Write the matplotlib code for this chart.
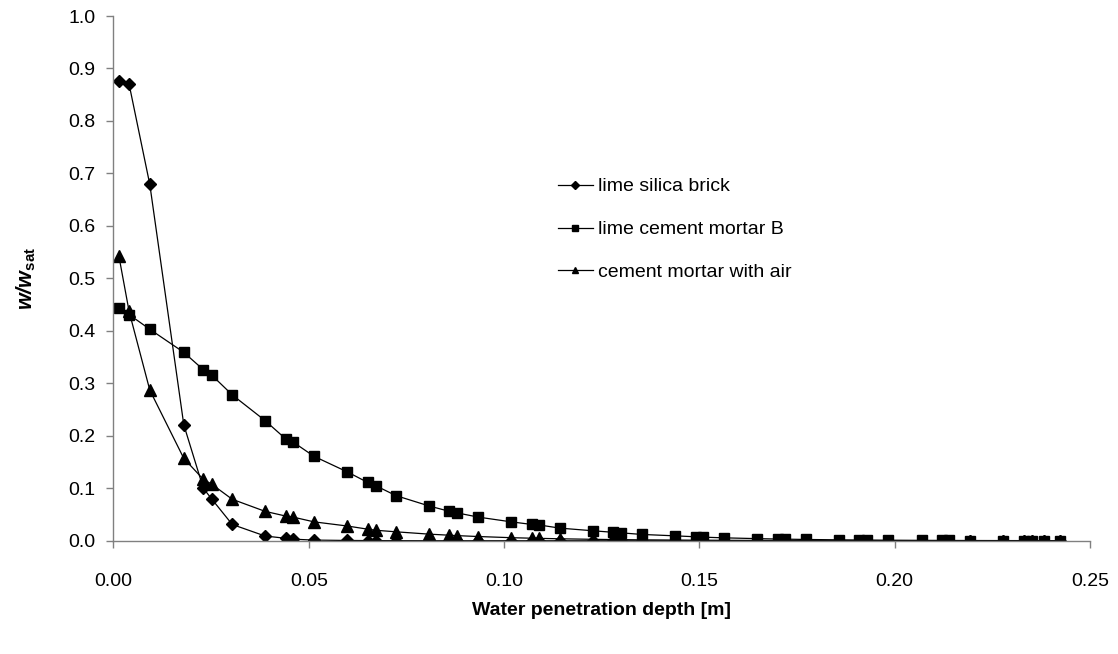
import matplotlib.pyplot as plt

plt.rcParams['font.family'] = ['Liberation Sans', 'DejaVu Sans']
plt.rcParams['mathtext.fontset'] = 'custom'
plt.rcParams['mathtext.rm'] = 'Liberation Sans'
plt.rcParams['mathtext.bf'] = 'Liberation Sans:bold'
plt.rcParams['mathtext.it'] = 'Liberation Sans:italic'
plt.rcParams['mathtext.bfit'] = 'Liberation Sans:italic:bold'

# depth grid [m]
depth = [0.0014, 0.0040, 0.0093,
         0.0180, 0.0230, 0.0251, 0.0304,
         0.0388, 0.0441, 0.0460, 0.0513,
         0.0599, 0.0651, 0.0671, 0.0723,
         0.0809, 0.0860, 0.0880, 0.0934,
         0.1018, 0.1071, 0.1090, 0.1143,
         0.1227, 0.1280, 0.1300, 0.1352,
         0.1438, 0.1491, 0.1510, 0.1563,
         0.1648, 0.1701, 0.1720, 0.1773,
         0.1858, 0.1909, 0.1930, 0.1982,
         0.2069, 0.2120, 0.2140, 0.2193,
         0.2278, 0.2331, 0.2351, 0.2383, 0.2423]

lime_silica = [0.877, 0.870, 0.679,
               0.221, 0.100, 0.080, 0.031,
               0.009, 0.0046, 0.0030, 0.0012,
               0.0005, 0.0003, 0.0002, 0.0001] + [0.0] * 33

lime_cement_b = [0.444, 0.431, 0.403,
                 0.359, 0.326, 0.316, 0.278,
                 0.229, 0.194, 0.188, 0.161,
                 0.131, 0.111, 0.105, 0.086,
                 0.066, 0.056, 0.053, 0.045,
                 0.036, 0.031, 0.030, 0.024,
                 0.019, 0.016, 0.015, 0.012,
                 0.0093, 0.0075, 0.0068, 0.0055,
                 0.0040, 0.0032, 0.0030, 0.0024,
                 0.0017, 0.0014, 0.0013, 0.0010,
                 0.0007, 0.0006, 0.0005, 0.0004,
                 0.0003, 0.0002, 0.0002, 0.0002, 0.0001]

cement_air = [0.542, 0.437, 0.287,
              0.157, 0.117, 0.108, 0.079,
              0.056, 0.047, 0.045, 0.036,
              0.028, 0.022, 0.020, 0.017,
              0.0125, 0.0105, 0.0097, 0.0080,
              0.0058, 0.0048, 0.0045, 0.0037,
              0.0027, 0.0022, 0.0021, 0.0017,
              0.0013, 0.0010, 0.0010, 0.0008,
              0.0006, 0.0005, 0.0005, 0.0004,
              0.0003, 0.0002, 0.0002, 0.0002,
              0.0001, 0.0001, 0.0001, 0.0001,
              0.0001, 0.0, 0.0, 0.0, 0.0]

names = ['lime silica brick', 'lime cement mortar B', 'cement mortar with air']

fig = plt.figure(figsize=(11.18, 6.54), dpi=100)
ax = fig.add_axes([0.1015, 0.1732, 0.8735, 0.8023])

ax.plot(depth, lime_silica, color='black', lw=0.9, marker='D', ms=6.4, label=names[0])
ax.plot(depth, lime_cement_b, color='black', lw=0.9, marker='s', ms=7.4, label=names[1])
ax.plot(depth, cement_air, color='black', lw=0.9, marker='^', ms=8.0, label=names[2])

ax.set_xlim(0, 0.25)
ax.set_ylim(0, 1.0)
ax.set_xticks([0, 0.05, 0.10, 0.15, 0.20, 0.25])
ax.set_xticklabels(['0.00', '0.05', '0.10', '0.15', '0.20', '0.25'])
ax.set_yticks([i / 10 for i in range(11)])
ax.set_yticklabels(['%.1f' % (i / 10) for i in range(11)])

for side in ['top', 'right']:
    ax.spines[side].set_visible(False)
for side in ['left', 'bottom']:
    ax.spines[side].set_color('#808080')
    ax.spines[side].set_linewidth(1.0)
ax.tick_params(direction='out', length=5, width=1.0, color='#808080', labelsize=14)
ax.tick_params(axis='x', pad=18)
ax.tick_params(axis='y', pad=8)

ax.set_xlabel('Water penetration depth [m]', fontsize=14, fontweight='bold', labelpad=9)
ax.set_ylabel(r'$\mathbfit{w/w}_{\mathbf{sat}}$', fontsize=15.5, labelpad=22)

ax.legend(loc='upper left', bbox_to_anchor=(0.437, 0.725), frameon=False,
          fontsize=14, handlelength=1.8, handletextpad=0.25, labelspacing=1.3,
          markerscale=0.6)

fig.savefig('out.png', dpi=100)
